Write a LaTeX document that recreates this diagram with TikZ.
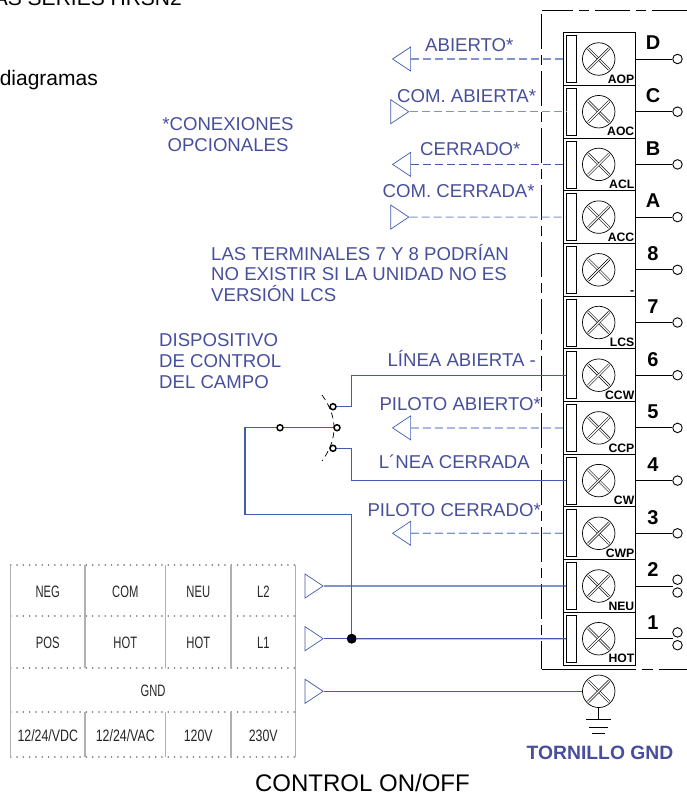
\documentclass[tikz,border=0pt]{standalone}
\usepackage{fontspec}
\setmainfont{Liberation Sans}
\newfontfamily\narrowfont[FakeStretch=0.68]{Liberation Sans}
\newfontfamily\widerfont[FakeStretch=0.75]{Liberation Sans}
\usetikzlibrary{shapes.geometric,calc}
\definecolor{bluetext}{HTML}{474F9C}
\definecolor{bluewire}{HTML}{3F5CAE}
\definecolor{bluelight}{HTML}{8093CF}
\definecolor{cellgray}{HTML}{B0B0B0}
\tikzset{
  termbox/.style={draw,line width=1pt,minimum width=72pt,minimum height=52.7pt,inner sep=0pt},
  slotbox/.style={draw,line width=0.7pt,minimum width=9.5pt,minimum height=47pt,inner sep=0pt},
  screw/.style={circle,draw,line width=0.7pt,minimum size=32.5pt,inner sep=0pt,
    path picture={
      \draw[line width=0.6pt,double=white,double distance=1.3pt]
        ($(path picture bounding box.center)+(-10.5,-10.5)$) -- ($(path picture bounding box.center)+(10.5,10.5)$);
      \draw[line width=0.6pt,double=white,double distance=1.3pt]
        ($(path picture bounding box.center)+(-10.5,10.5)$) -- ($(path picture bounding box.center)+(10.5,-10.5)$);
    }},
  endring/.style={circle,draw,line width=0.9pt,fill=white,minimum size=9.5pt,inner sep=0pt},
  contact/.style={circle,draw,line width=1.5pt,fill=white,minimum size=6pt,inner sep=0pt},
  junction/.style={circle,fill=black,minimum size=10pt,inner sep=0pt},
  ptr/.style={isosceles triangle,isosceles triangle stretches,draw=bluewire,line width=0.7pt,
    minimum width=24pt,minimum height=18pt,inner sep=0pt,anchor=apex},
  ptrleft/.style={ptr,shape border rotate=180},
  wire/.style={draw=bluewire,line width=1.3pt},
  dashwire/.style={draw=bluelight,line width=1.2pt,dash pattern=on 8pt off 4pt},
  framedash/.style={line width=1pt,dash pattern=on 35pt off 6pt on 10pt off 6pt},
  bluelabel/.style={text=bluetext,font=\fontsize{18.6}{20.8}\selectfont,inner sep=0pt},
  termnum/.style={font=\bfseries\fontsize{20}{20}\selectfont,inner sep=0pt},
  termtag/.style={font=\bfseries\fontsize{12.2}{12.2}\selectfont,inner sep=0pt,anchor=south east},
  cell/.style={font=\narrowfont\fontsize{16.5}{16.5}\selectfont,text=black!85,inner sep=0pt},
  volts/.style={cell,font=\widerfont\fontsize{16.5}{16.5}\selectfont},
  dotrule/.style={draw=gray,line width=1.7pt,line cap=round,dash pattern=on 0.1pt off 6.2pt},
  cellrule/.style={draw=cellgray,line width=1.1pt},
  pagetext/.style={anchor=east,inner sep=0pt,font=\fontsize{21}{21}\selectfont},
}
\begin{document}
\begin{tikzpicture}[x=1pt,y=-1pt]
\useasboundingbox (0,0) rectangle (687,793);
\clip (0,0) rectangle (687,793);
% cut off page text
\node[pagetext] (pagetop) at (182,-1.5) {AS SERIES HRSN2};
\node[pagetext] (pagediag) at (98,80) {diagramas};
% frame
\draw[framedash] (687,10) -- (541.5,10);
\draw[framedash,dash phase=-4pt] (541.5,10) -- (541.5,669);
\draw[line width=1pt,dash pattern=on 94pt off 6pt on 11pt off 6pt on 30pt] (541.5,669) -- (687,669);
% terminals
\foreach \name/\tag [count=\i from 0] in {D/AOP,C/AOC,B/ACL,A/ACC,8/-,7/LCS,6/CCW,5/CCP,4/CW,3/CWP,2/NEU,1/HOT}
{
  \pgfmathsetmacro{\rowy}{59+52.7*\i}
  \node[termbox] (box\name) at (599.5,\rowy) {};
  \node[slotbox] (slot\name) at (571.3,\rowy) {};
  \node[screw] (screw\name) at (598.7,\rowy) {};
  \node[termnum] (num\name) at (653,\rowy-16) {\name};
  \node[termtag] (tag\name) at (634.5,\rowy+24.5) {\tag};
}
\foreach \name in {D,C,B,A,8,7,6,5,4,3}
{
  \node[endring] (ring\name) at ($(box\name.east)+(41.5,0)$) {};
  \draw[line width=0.9pt] (box\name.east) -- (ring\name);
}
% terminals 2 and 1 have two rings
\foreach \name in {2,1}
{
  \node[endring] (ringa\name) at ($(box\name.east)+(41.5,-6.3)$) {};
  \node[endring] (ringb\name) at ($(box\name.east)+(41.5,6.5)$) {};
  \coordinate (stub\name) at ($(box\name.east)+(37,0)$);
  \draw[line width=0.9pt] (box\name.east) -- (stub\name);
}
% pointers and their labels
\node[ptrleft] (ptrD) at (391.7,59) {};
\node[ptr] (ptrC) at (409.7,111.7) {};
\node[ptrleft] (ptrB) at (391.7,164.4) {};
\node[ptr] (ptrA) at (409.7,217.1) {};
\node[ptrleft] (ptr5) at (391.7,427.9) {};
\node[ptrleft] (ptr3) at (391.7,533.3) {};
\node[ptr] (ptr2) at (324,586) {};
\node[ptr] (ptr1) at (324,638.7) {};
\node[ptr] (ptrG) at (324,691.3) {};
\foreach \name in {D,C,A,5,3}
  \draw[dashwire] (ptr\name) -- (slot\name.west);
\draw[dashwire,draw=bluewire] (ptrB) -- (slotB.west);
\node[bluelabel,anchor=west] (labD) at (425,45) {ABIERTO*};
\node[bluelabel,anchor=west] (labC) at (397,96) {COM. ABIERTA*};
\node[bluelabel,anchor=west] (labB) at (420,149) {CERRADO*};
\node[bluelabel,anchor=west] (labA) at (382.5,191) {COM. CERRADA*};
\node[bluelabel,anchor=east] (lab6) at (536,358) {LÍNEA ABIERTA -};
\node[bluelabel,anchor=east] (lab5) at (541,404) {PILOTO ABIERTO*};
\node[bluelabel,anchor=east] (lab4) at (530,462) {L´NEA CERRADA};
\node[bluelabel,anchor=east] (lab3) at (541,510) {PILOTO CERRADO*};
\node[bluelabel,align=center] (optional) at (228,134.7) {*CONEXIONES\\OPCIONALES};
\node[bluelabel,align=left,anchor=west] (note78) at (211,273) {LAS TERMINALES 7 Y 8 PODRÍAN\\NO EXISTIR SI LA UNIDAD NO ES\\VERSIÓN LCS};
\node[bluelabel,align=left,anchor=west] (device) at (159,361) {DISPOSITIVO\\DE CONTROL\\DEL CAMPO};
% switch
\node[contact] (contactu) at (333,406.7) {};
\node[contact] (contactm) at (337,427.7) {};
\node[contact] (contactl) at (333,448.3) {};
\node[contact] (dotm) at (280,427.7) {};
\node[junction] (junc) at (351.7,638.7) {};
\coordinate (switcha) at (322,395);
\coordinate (switchb) at (322,461);
\draw[line width=0.7pt,dash pattern=on 6pt off 4pt] (switcha) .. controls (338,417) and (338,439) .. (switchb);
\coordinate (bendu) at (351.7,375.2);
\coordinate (bendl) at (351.7,480.6);
\coordinate (bendm) at (245,514.3);
\draw[wire] (contactu) -| (bendu) -- (slot6.west |- bendu);
\draw[wire] (contactl) -| (bendl) -- (slot4.west |- bendl);
\draw[wire] (contactm) -- (dotm) -| (bendm) -- (bendm -| junc) -- (junc);
\draw[wire] (ptr2) -- (slot2.west);
\draw[wire] (ptr1) -- (junc);
\draw[wire] (junc) -- (slot1.west);
% ground
\node[screw] (screwG) at (598.7,691.3) {};
\draw[wire] (ptrG) -- (screwG);
\coordinate (gnda) at (598.7,719);
\draw[line width=0.8pt] (screwG) -- (gnda);
\draw[line width=0.8pt] ($(gnda)+(-12.7,0)$) -- ($(gnda)+(12.7,0)$);
\draw[line width=0.8pt] ($(gnda)+(-9.5,8)$) -- ($(gnda)+(9.5,8)$);
\draw[line width=0.8pt] ($(gnda)+(-6.3,14)$) -- ($(gnda)+(6.3,14)$);
\node[inner sep=0pt,text=bluetext,font=\bfseries\fontsize{19.3}{19.3}\selectfont] (gndlab) at (600,753) {TORNILLO GND};
% power table
\foreach \y in {565,616.3,667.7,712.3,757}
  \draw[dotrule] (10.7,\y) -- (295.7,\y);
\foreach \x in {10.7,295.7}
  \draw[cellrule] (\x,565) -- (\x,757);
\foreach \x in {85,165.7,231}
{
  \draw[cellrule] (\x,565) -- (\x,667.7);
  \draw[cellrule] (\x,712.3) -- (\x,757);
}
\foreach \a/\b/\c/\d/\y [count=\r] in {NEG/COM/NEU/L2/591.5,POS/HOT/HOT/L1/642.5}
{
  \node[cell] (cell\r a) at (47.8,\y) {\a};
  \node[cell] (cell\r b) at (125.3,\y) {\b};
  \node[cell] (cell\r c) at (198.3,\y) {\c};
  \node[cell] (cell\r d) at (263.3,\y) {\d};
}
\node[cell] (cellgnd) at (153,690.5) {GND};
\node[volts] (cellvdc) at (47.8,735.5) {12/24/VDC};
\node[volts] (cellvac) at (125.3,735.5) {12/24/VAC};
\node[volts] (cell120) at (198.3,735.5) {120V};
\node[volts] (cell230) at (263.3,735.5) {230V};
\node[inner sep=0pt,font=\fontsize{24}{24}\selectfont] (title) at (362.5,782.5) {CONTROL ON/OFF};
\end{tikzpicture}
\end{document}
